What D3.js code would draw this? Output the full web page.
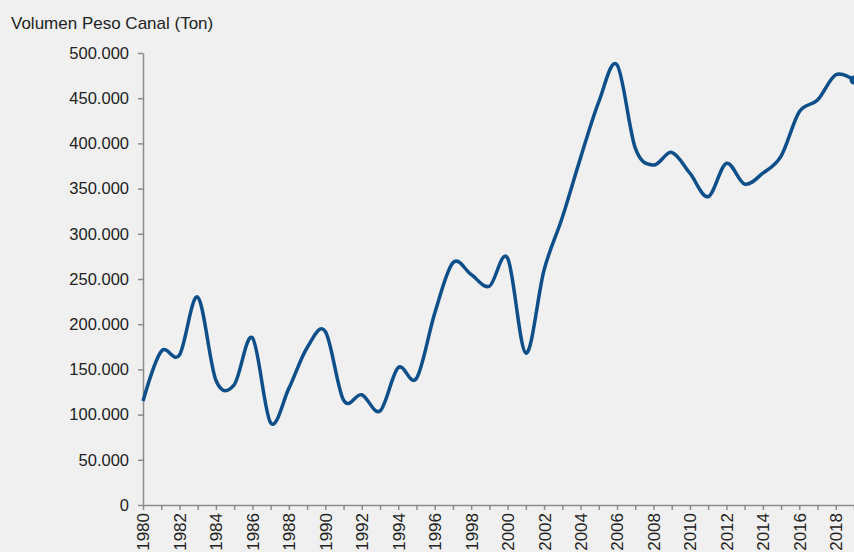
<!DOCTYPE html>
<html>
<head>
<meta charset="utf-8">
<script src="https://cdn.jsdelivr.net/npm/d3@7"></script>
<style>
  body { margin: 0; background: #f0f0f0; overflow: hidden; }
  svg { display: block; font-family: "Liberation Sans", Arial, sans-serif; }
  .axis path, .axis line { stroke: #8c8c8c; stroke-width: 1.5; }
  .axis text { fill: #222; font-size: 16.5px; }
</style>
</head>
<body>
<script>
// data (tons per year)
var years = d3.range(1980, 2020);
var volumes = [
	115000, 170000, 166000, 230000, 138000, 133000, 185000, 91000, 129000, 174000,
	192000, 116000, 122000, 104000, 152000, 140000, 212000, 268000, 255000, 242000,
	273000, 168000, 260000, 318000, 384000, 446000, 487000, 395000, 376000, 390000,
	367000, 341000, 378000, 355000, 367000, 386000, 435000, 448000, 476000, 470000
];
var yTicks = [0, 50000, 100000, 150000, 200000, 250000, 300000, 350000, 400000, 450000, 500000];

var width = 854,
	height = 552,
	margin = { top: 53, right: 0, bottom: 47, left: 143 };

var svg = d3.select('body').append('svg')
	.attr('width', width)
	.attr('height', height);

svg.append('rect')
	.attr('width', width)
	.attr('height', height)
	.attr('fill', '#f0f0f0');

var xScale = d3.scaleLinear().domain([1980, 2019]).range([margin.left, width - margin.right]),
	yScale = d3.scaleLinear().domain([0, 500000]).range([height - margin.bottom, margin.top]);

// spanish style number format: 500.000
var locale = d3.formatLocale({ decimal: ',', thousands: '.', grouping: [3], currency: ['', ''] });
var fmt = locale.format(',');

// title
svg.append('text')
	.attr('x', 11)
	.attr('y', 29)
	.attr('fill', '#222')
	.style('font-size', '17px')
	.text('Volumen Peso Canal (Ton)');

// y axis
svg.append('g')
	.attr('class', 'axis axis--y')
	.attr('transform', 'translate(' + margin.left + ',0)')
	.call(d3.axisLeft(yScale).tickValues(yTicks).tickFormat(fmt).tickSize(5).tickSizeOuter(0).tickPadding(9));

// x axis, a tick every year, label every other year
svg.append('g')
	.attr('class', 'axis axis--x')
	.attr('transform', 'translate(0,' + (height - margin.bottom) + ')')
	.call(d3.axisBottom(xScale)
		.tickValues(years)
		.tickFormat(function(d) { return d % 2 === 0 ? String(d) : ''; })
		.tickSize(5)
		.tickSizeOuter(0))
	.selectAll('text')
	.style('font-size', '17px')
	.attr('transform', 'rotate(-90)')
	.attr('text-anchor', 'end')
	.attr('x', -8)
	.attr('y', 0)
	.attr('dy', '0.35em');

// smoothed line
var line = d3.line()
	.x(function(d, i) { return xScale(years[i]); })
	.y(function(d) { return yScale(d); })
	.curve(d3.curveCardinal.tension(0));

svg.append('path')
	.datum(volumes)
	.attr('d', line)
	.attr('fill', 'none')
	.attr('stroke', '#0e4f8a')
	.attr('stroke-width', 3.5)
	.attr('stroke-linejoin', 'round');

// marker on the last point
svg.append('circle')
	.attr('cx', xScale(years[years.length - 1]))
	.attr('cy', yScale(volumes[volumes.length - 1]))
	.attr('r', 4.5)
	.attr('fill', '#0e4f8a');
</script>
</body>
</html>
